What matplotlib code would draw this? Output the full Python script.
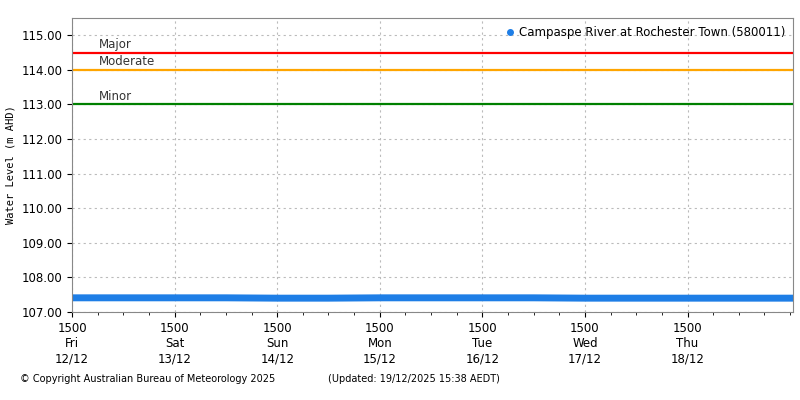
import matplotlib
matplotlib.use("Agg")
import matplotlib.pyplot as plt
from matplotlib.ticker import MultipleLocator

# days since Fri 12/12 15:00, water level (m AHD)
days = [0.0, 0.5, 1.0, 1.5, 2.0, 2.5, 3.0, 3.5, 4.0, 4.5, 5.0, 5.5, 6.0, 6.5, 7.03]
level = [107.41, 107.41, 107.41, 107.41, 107.40, 107.40, 107.41, 107.41, 107.41, 107.41, 107.40, 107.40, 107.40, 107.40, 107.40]
thresholds = [("Major", 114.5, "#ff0000"), ("Moderate", 114.0, "#ffa500"), ("Minor", 113.0, "#008000")]
tick_labels = ["1500\nFri\n12/12", "1500\nSat\n13/12", "1500\nSun\n14/12", "1500\nMon\n15/12",
               "1500\nTue\n16/12", "1500\nWed\n17/12", "1500\nThu\n18/12"]

fig = plt.figure(figsize=(8, 4), dpi=100)
ax = fig.add_axes([0.09, 0.22, 0.9015, 0.735])
for name, y, c in thresholds:
    ax.axhline(y, color=c, lw=1.6)
    ax.text(0.26, y + 0.05, name, fontsize=8.5, color="#333333", va="bottom")
ax.plot(days, level, color="#1e7ee6", lw=5, solid_capstyle="butt")
ax.plot([], [], "o", color="#1e7ee6", ms=4, label="Campaspe River at Rochester Town (580011)")
ax.legend(loc="upper right", frameon=False, fontsize=8.5, handletextpad=0.3, borderaxespad=0.3,
          handlelength=0.8)

ax.set_xlim(0, 7.03)
ax.set_ylim(107, 115.5)
ax.set_xticks(range(len(tick_labels)))
ax.set_xticklabels(tick_labels, fontsize=8.5, linespacing=1.25)
ax.xaxis.set_minor_locator(MultipleLocator(0.25))
ax.yaxis.set_major_locator(MultipleLocator(1))
ax.yaxis.set_major_formatter(matplotlib.ticker.FormatStrFormatter("%.2f"))
ax.tick_params(labelsize=8.5)
ax.grid(True, ls=(0, (2, 3)), color="#bbbbbb", lw=0.8)
ax.set_ylabel("Water Level (m AHD)", fontsize=7.5, family="DejaVu Sans Mono")
for s in ax.spines.values():
    s.set_color("#888888")

fig.text(0.025, 0.045, "© Copyright Australian Bureau of Meteorology 2025", fontsize=7)
fig.text(0.41, 0.045, "(Updated: 19/12/2025 15:38 AEDT)", fontsize=7)
fig.savefig("out.png")
